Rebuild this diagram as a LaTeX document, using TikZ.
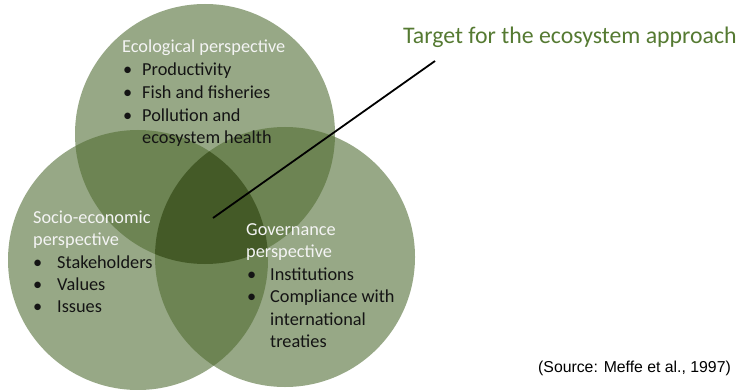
\documentclass[tikz,border=0pt]{standalone}
\usepackage{fontspec}
\setmainfont{Carlito}
\newfontfamily\arialf{Liberation Sans}
\definecolor{cone}{HTML}{97A886}
\definecolor{ctwo}{HTML}{6D8453}
\definecolor{cthree}{HTML}{445A27}
\definecolor{ttl}{HTML}{557A32}
\definecolor{hdr}{HTML}{F4F4F4}
\definecolor{itm}{HTML}{141414}
\tikzset{
  hd/.style={anchor=base west,inner sep=0pt,text=hdr,font=\fontsize{18.3}{22}\selectfont},
  it/.style={anchor=base west,inner sep=0pt,text=itm,font=\fontsize{18.3}{22}\selectfont},
  bl/.style={anchor=base west,inner sep=0pt,text=itm,font=\fontsize{18.3}{22}\selectfont},
}
\begin{document}
\begin{tikzpicture}[x=1pt,y=-1pt]
\useasboundingbox (0,0) rectangle (746,390);
\coordinate (A) at (205,134);
\coordinate (B) at (138,260);
\coordinate (C) at (285,257);
\def\R{130pt}
\fill[cone] (A) circle[radius=\R];
\fill[cone] (B) circle[radius=\R];
\fill[cone] (C) circle[radius=\R];
\begin{scope}
  \clip (A) circle[radius=\R];
  \fill[ctwo] (B) circle[radius=\R];
  \fill[ctwo] (C) circle[radius=\R];
\end{scope}
\begin{scope}
  \clip (B) circle[radius=\R];
  \fill[ctwo] (C) circle[radius=\R];
\end{scope}
\begin{scope}
  \clip (A) circle[radius=\R];
  \clip (B) circle[radius=\R];
  \fill[cthree] (C) circle[radius=\R];
\end{scope}
% Ecological
\node[hd] (eh) at (122,53) {Ecological perspective};
\node[bl] (eb1) at (123,76) {•};
\node[it] (ei1) at (142,76) {Productivity};
\node[bl] (eb2) at (123,99) {•};
\node[it] (ei2) at (142,99) {Fish and fisheries};
\node[bl] (eb3) at (123,122) {•};
\node[it] (ei3) at (142,122) {Pollution and};
\node[it] (ei4) at (142,144) {ecosystem health};
% Socio-economic
\node[hd] (sh1) at (33,223) {Socio-economic};
\node[hd] (sh2) at (33,245) {perspective};
\node[bl] (sb1) at (33,268) {•};
\node[it] (si1) at (57,268) {Stakeholders};
\node[bl] (sb2) at (33,290) {•};
\node[it] (si2) at (57,290) {Values};
\node[bl] (sb3) at (33,312) {•};
\node[it] (si3) at (57,312) {Issues};
% Governance
\node[hd] (gh1) at (246,235) {Governance};
\node[hd] (gh2) at (246,257) {perspective};
\node[bl] (gb1) at (247,280) {•};
\node[it] (gi1) at (270,280) {Institutions};
\node[bl] (gb2) at (247,302) {•};
\node[it] (gi2) at (270,302) {Compliance with};
\node[it] (gi3) at (270,325) {international};
\node[it] (gi4) at (270,347) {treaties};
% Target
\node[anchor=base west,inner sep=0pt,text=ttl,font=\fontsize{23.8}{28}\selectfont] (tg) at (403,44) {Target for the ecosystem approach};
\coordinate (p1) at (213,218);
\coordinate (p2) at (435,61);
\draw[line width=1.8pt,black] (p1) -- (p2);
% Source
\node[anchor=base west,inner sep=0pt,font=\arialf\fontsize{15.8}{19}\selectfont] (src) at (538,372) {(Source: Meffe et al., 1997)};
\end{tikzpicture}
\end{document}
